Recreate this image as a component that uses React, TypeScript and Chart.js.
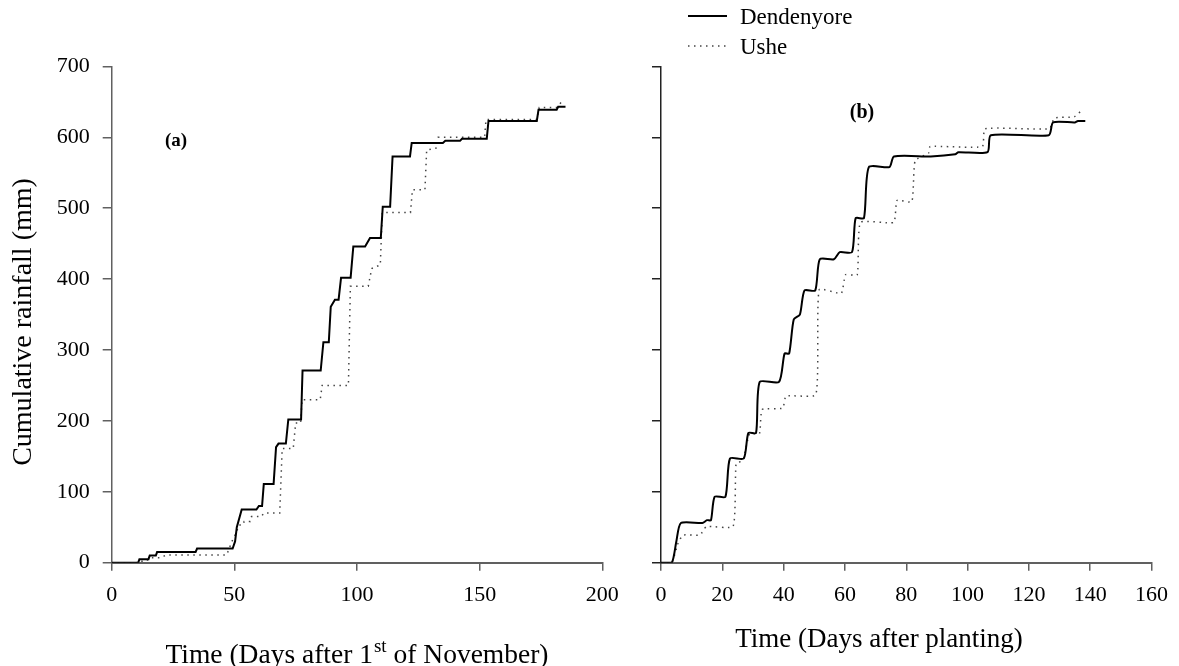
import React, { useEffect, useRef } from "react";
import { Chart, registerables } from "chart.js";
Chart.register(...registerables);

// ---- Panel (a): days after 1st November ----
const dendA_days = [0, 10.8, 11.3, 15, 15.5, 18, 18.5, 34.2, 34.8, 49.3, 50.3, 51, 53, 59, 60, 61.3, 62, 66, 67, 68, 71, 72, 77.2, 77.8, 85.2, 86.3, 88.5, 89.3, 91, 92.5, 93.5, 97.4, 98.5, 103.3, 105.3, 109.7, 110.5, 113.5, 114.5, 121.6, 122.3, 135, 136, 142, 142.8, 152.9, 153.6, 173.3, 174, 181.4, 182, 185];
const dendA_mm = [0, 0, 5, 5, 10, 10, 15, 15, 20, 20, 30, 50, 75, 75, 80, 80, 111, 111, 163, 168, 168, 202, 202, 271, 271, 311, 311, 361, 371, 371, 402, 402, 446, 446, 458, 458, 502, 502, 573, 573, 592, 592, 595, 595, 598, 598, 623, 623, 639, 639, 643, 643];
const usheA_days = [0, 10.2, 11, 14, 15.6, 19.7, 22.4, 46.9, 49, 50.6, 51.9, 53.5, 54, 56.5, 57, 61, 62, 68.5, 69.5, 74, 75, 77, 77.6, 85, 85.8, 96.5, 97.3, 104.6, 106, 109.5, 110.3, 121.8, 122.6, 127.7, 128.4, 132.5, 133.1, 152, 152.6, 173.3, 174.3, 181.4, 183.4];
const usheA_mm = [0, 0, 2, 2, 7, 7, 11, 11, 30, 41, 53, 53, 58, 58, 65, 65, 70, 70, 161, 161, 197, 197, 230, 230, 250, 250, 390, 390, 415, 420, 494, 494, 526, 526, 582, 585, 600, 600, 625, 625, 642, 642, 650];

// ---- Panel (b): days after planting ----
const dendB_days = [0, 3.5, 5, 6.5, 13.5, 15, 16.3, 17.5, 21, 22.5, 27, 28.5, 31, 32.2, 38.5, 40.3, 41.8, 43.3, 45.3, 46.8, 50.3, 51.8, 56.4, 58.3, 62.3, 63.5, 66.2, 67.8, 74.5, 76, 88, 96, 97, 106.5, 107.6, 126.5, 127.9, 135, 136, 138.4];
const dendB_mm = [0, 0, 30, 56, 56, 60, 60, 93, 93, 147, 147, 183, 183, 255, 255, 295, 295, 343, 350, 384, 384, 428, 428, 438, 438, 486, 486, 558, 558, 573, 573, 576, 579, 579, 603, 603, 621, 621, 623, 623];
const usheB_days = [0, 3.5, 5.6, 7.2, 12.7, 14.8, 23.5, 24.5, 26.7, 28.9, 32.1, 33, 39.7, 40.8, 50.5, 51.6, 58.8, 60.2, 64, 65.1, 75.9, 77, 81.8, 82.9, 87.3, 87.8, 104.8, 105.7, 126.7, 128.3, 134.8, 137];
const usheB_mm = [0, 0, 28, 39, 39, 51, 51, 140, 144, 182, 182, 216, 218, 235, 237, 385, 380, 406, 406, 480, 480, 511, 509, 567, 578, 587, 587, 612, 612, 627, 629, 637];

const yTickValues = [0, 100, 200, 300, 400, 500, 600, 700];
const xTickValuesA = [0, 50, 100, 150, 200];
const xTickValuesB = [0, 20, 40, 60, 80, 100, 120, 140, 160];

const seriesNames = ["Dendenyore", "Ushe"];
const panelLabels = ["(a)", "(b)"];
const yTitle = "Cumulative rainfall (mm)";
const xTitleA = ["Time (Days after 1", "st", " of November)"];
const xTitleB = "Time (Days after planting)";

const SERIF = "'Liberation Serif', 'Times New Roman', serif";
const AXIS = "#606060";

function pts(xs: number[], ys: number[]) {
  return xs.map((x, i) => ({ x, y: ys[i] }));
}

function solidDs(data: any, tension: number) {
  return { data, borderColor: "#000", borderWidth: 2, pointRadius: 0, tension, fill: false };
}
function dottedDs(data: any, tension: number) {
  return {
    data, borderColor: "#444", borderWidth: 1.5, borderDash: [1.5, 4.5], borderCapStyle: "butt",
    pointRadius: 0, tension, fill: false,
  };
}

function makeOptions(cfg: any) {
  const tickFont = { family: SERIF, size: 22 };
  return {
    animation: false,
    responsive: false,
    maintainAspectRatio: false,
    layout: { padding: { left: 0, top: cfg.top, right: cfg.right, bottom: 0 } },
    plugins: { legend: { display: false }, tooltip: { enabled: false } },
    elements: { point: { radius: 0 } },
    scales: {
      x: {
        type: "linear",
        min: 0,
        max: cfg.xmax,
        afterBuildTicks: (s: any) => { s.ticks = cfg.xticks.map((v: number) => ({ value: v })); },
        afterFit: (s: any) => { s.height = cfg.xh; },
        grid: { drawOnChartArea: false, drawTicks: true, tickLength: 8, color: AXIS, lineWidth: 1.5 },
        border: { display: true, color: AXIS, width: 2 },
        ticks: { font: tickFont, color: "#000", padding: 11, maxRotation: 0, autoSkip: false },
      },
      y: {
        type: "linear",
        min: 0,
        max: 700,
        afterBuildTicks: (s: any) => { s.ticks = yTickValues.map((v) => ({ value: v })); },
        afterFit: (s: any) => { s.width = cfg.yw; },
        grid: { drawOnChartArea: false, drawTicks: true, tickLength: 9, color: cfg.ycolor, lineWidth: 1.5 },
        border: { display: true, color: cfg.ycolor, width: 1.5 },
        ticks: { display: cfg.ylabels, font: tickFont, color: "#000", padding: 13, autoSkip: false },
      },
    },
  };
}

const titlesA = {
  id: "titlesA",
  afterDraw(chart: any) {
    const ctx = chart.ctx;
    ctx.save();
    ctx.fillStyle = "#000";
    // y title
    ctx.translate(24, 322);
    ctx.rotate(-Math.PI / 2);
    ctx.font = `28px ${SERIF}`;
    ctx.textAlign = "center";
    ctx.textBaseline = "middle";
    ctx.fillText(yTitle, 0, 0);
    ctx.restore();

    ctx.save();
    ctx.fillStyle = "#000";
    const big = `27.5px ${SERIF}`;
    const small = `19px ${SERIF}`;
    ctx.font = big;
    const w1 = ctx.measureText(xTitleA[0]).width;
    const w3 = ctx.measureText(xTitleA[2]).width;
    ctx.font = small;
    const w2 = ctx.measureText(xTitleA[1]).width;
    const total = w1 + w2 + w3 + 1;
    const ca = chart.chartArea;
    let x = (ca.left + ca.right) / 2 - total / 2;
    const base = 663;
    ctx.textAlign = "left";
    ctx.textBaseline = "alphabetic";
    ctx.font = big;
    ctx.fillText(xTitleA[0], x, base);
    x += w1;
    ctx.font = small;
    ctx.fillText(xTitleA[1], x + 1, base - 11);
    x += w2 + 1;
    ctx.font = big;
    ctx.fillText(xTitleA[2], x, base);

    // panel label
    ctx.font = `bold 19px ${SERIF}`;
    ctx.textAlign = "center";
    ctx.textBaseline = "middle";
    ctx.fillText(panelLabels[0], 176, 141);
    ctx.restore();
  },
};

const titlesB = {
  id: "titlesB",
  afterDraw(chart: any) {
    const ctx = chart.ctx;
    ctx.save();
    ctx.fillStyle = "#000";
    ctx.font = `27px ${SERIF}`;
    ctx.textAlign = "center";
    ctx.textBaseline = "alphabetic";
    ctx.fillText(xTitleB, 239, 647);

    ctx.font = `bold 20px ${SERIF}`;
    ctx.textBaseline = "middle";
    ctx.fillText(panelLabels[1], 222, 113);

    // legend
    ctx.font = `23px ${SERIF}`;
    ctx.textAlign = "left";
    ctx.fillText(seriesNames[0], 100, 18);
    ctx.fillText(seriesNames[1], 100, 48);
    ctx.strokeStyle = "#000";
    ctx.lineWidth = 2;
    ctx.beginPath();
    ctx.moveTo(48, 16);
    ctx.lineTo(87, 16);
    ctx.stroke();
    ctx.strokeStyle = "#444";
    ctx.lineWidth = 1.5;
    ctx.setLineDash([1.5, 4.5]);
    ctx.beginPath();
    ctx.moveTo(48, 46);
    ctx.lineTo(87, 46);
    ctx.stroke();
    ctx.restore();
  },
};

export default function App() {
  const refA = useRef<HTMLCanvasElement>(null);
  const refB = useRef<HTMLCanvasElement>(null);

  useEffect(() => {
    const chartA = new Chart(refA.current as HTMLCanvasElement, {
      type: "line",
      data: {
        datasets: [
          { label: seriesNames[0], ...solidDs(pts(dendA_days, dendA_mm), 0) },
          { label: seriesNames[1], ...dottedDs(pts(usheA_days, usheA_mm), 0) },
        ],
      },
      options: makeOptions({ top: 66.4, right: 37.7, xmax: 200, xticks: xTickValuesA, xh: 103.3, yw: 111.7, ylabels: true, ycolor: AXIS }) as any,
      plugins: [titlesA],
    } as any);
    const chartB = new Chart(refB.current as HTMLCanvasElement, {
      type: "line",
      data: {
        datasets: [
          { label: seriesNames[0], ...solidDs(pts(dendB_days, dendB_mm), 0.22) },
          { label: seriesNames[1], ...dottedDs(pts(usheB_days, usheB_mm), 0.15) },
        ],
      },
      options: makeOptions({ top: 66.4, right: 25, xmax: 160, xticks: xTickValuesB, xh: 103.3, yw: 21, ylabels: false, ycolor: "#222" }) as any,
      plugins: [titlesB],
    } as any);
    return () => {
      chartA.destroy();
      chartB.destroy();
    };
  }, []);

  return (
    <div style={{ position: "absolute", left: 0, top: 0, width: 1179, height: 666, background: "#fff", overflow: "hidden" }}>
      <canvas ref={refA} width={640} height={666} style={{ position: "absolute", left: 0, top: 0, width: 640, height: 666 }} />
      <canvas ref={refB} width={539} height={666} style={{ position: "absolute", left: 640, top: 0, width: 539, height: 666 }} />
    </div>
  );
}
